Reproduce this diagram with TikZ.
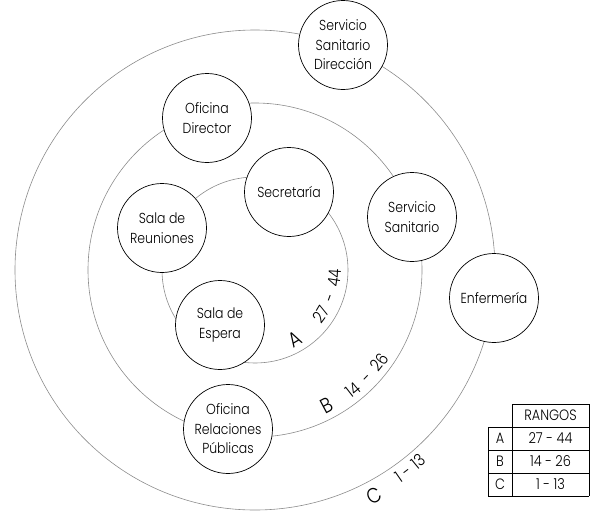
\documentclass[tikz,border=0pt]{standalone}
\usepackage{fontspec}
\IfFontExistsTF{Poppins Light}{\setmainfont{Poppins Light}[FakeStretch=0.86]}{\setmainfont{Poppins}[FakeStretch=0.86]}
\usetikzlibrary{decorations.text}
\newcommand\rgnum{\fontsize{17}{17}\selectfont}
\begin{document}
\begin{tikzpicture}[x=1pt,y=-1pt,
  room/.style={circle, draw=black, line width=0.7pt, fill=white, minimum size=89pt, inner sep=0pt, align=center, font=\fontsize{14.5}{19.5}\selectfont},
  ring/.style={draw=black!45, line width=0.6pt},
  bigl/.style={font=\fontsize{21}{21}\selectfont, inner sep=0pt},
  tab/.style={font=\fontsize{15}{15}\selectfont, inner sep=0pt},
  tline/.style={draw=black, line width=0.6pt},
  arclabel/.style={decorate, decoration={text along path, text align={fit to path stretching spaces}, text={|\rgnum|#1}}}]
\useasboundingbox (0,0) rectangle (596,514);
\coordinate (O) at (255,270);
\draw[ring] (O) circle (93);
\draw[ring] (O) circle (167);
\draw[ring] (O) circle (240);
\node[room] (sd) at (343,45) {Servicio\\Sanitario\\Dirección};
\node[room] (od) at (207,118) {Oficina\\Director};
\node[room] (sec) at (289,192) {Secretaría};
\node[room] (sr) at (162,228) {Sala de\\Reuniones};
\node[room] (ss) at (412,217) {Servicio\\Sanitario};
\node[room] (enf) at (494,298) {Enfermería};
\node[room] (se) at (220,325) {Sala de\\Espera};
\node[room] (orp) at (228,429) {Oficina\\Relaciones\\Públicas};
% ring labels
\node[bigl, rotate=30] (la) at (295,339) {A};
\path[arclabel={27 - 44}] (O) ++(-39:86pt) arc[start angle=-39, end angle=0, radius=86pt];
\node[bigl, rotate=28] (lb) at (327,405) {B};
\path[arclabel={14 - 26}] (O) ++(-53:161pt) arc[start angle=-53, end angle=-33.5, radius=161pt];
\node[bigl, rotate=28] (lc) at (374,496) {C};
\path[arclabel={1 - 13}] (O) ++(-55.8:258pt) arc[start angle=-55.8, end angle=-48.2, radius=258pt];
% table
\draw[tline] (512,404) -- (589,404);
\draw[tline] (488,427) -- (589,427);
\draw[tline] (488,450) -- (589,450);
\draw[tline] (488,473) -- (589,473);
\draw[tline] (488,496) -- (589,496);
\draw[tline] (488,427) -- (488,496);
\draw[tline] (512,404) -- (512,496);
\draw[tline] (589,404) -- (589,496);
\node[tab] (th) at (550.5,415.5) {RANGOS};
\node[tab] (ta) at (500,438.5) {A};
\node[tab] (tav) at (550.5,438.5) {27 - 44};
\node[tab] (tb) at (500,461.5) {B};
\node[tab] (tbv) at (550.5,461.5) {14 - 26};
\node[tab] (tc) at (500,484.5) {C};
\node[tab] (tcv) at (550.5,484.5) {1 - 13};
\end{tikzpicture}
\end{document}
